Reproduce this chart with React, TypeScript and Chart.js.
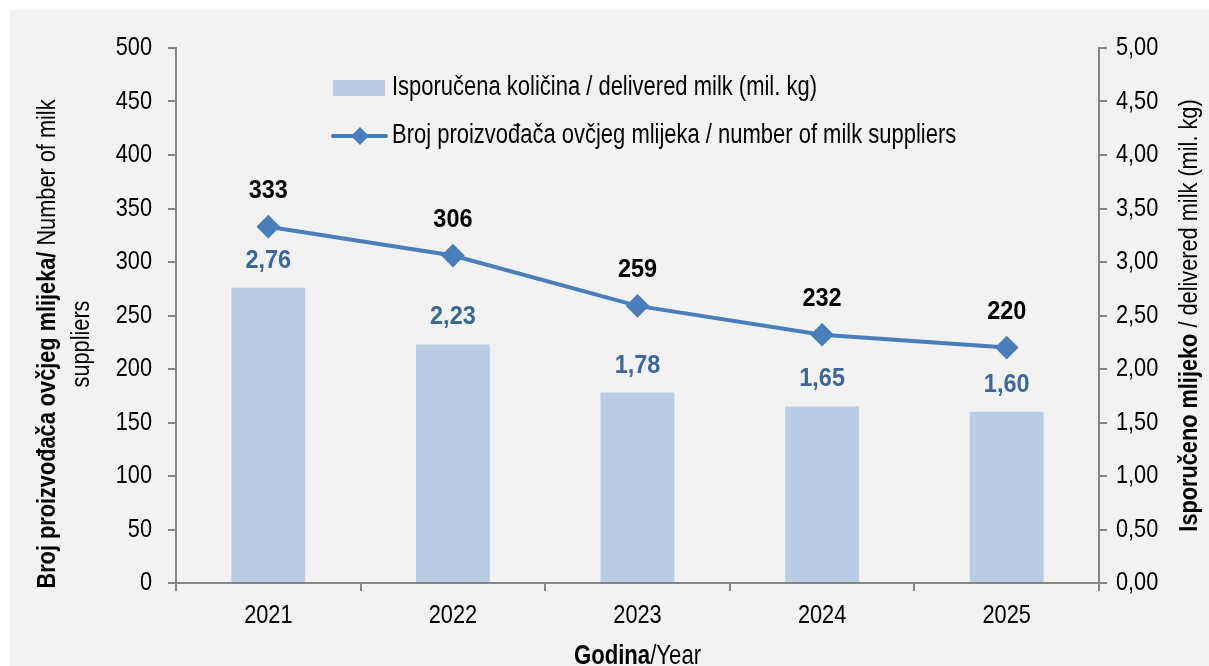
import React, { useEffect, useRef } from "react";
import { Chart, registerables } from "chart.js";

Chart.register(...registerables);

const years = ["2021", "2022", "2023", "2024", "2025"];
const deliveredMilk = [2.76, 2.23, 1.78, 1.65, 1.6];
const suppliers = [333, 306, 259, 232, 220];

const barLabel = "Isporučena količina / delivered milk (mil. kg)";
const lineLabel = "Broj proizvođača ovčjeg mlijeka / number of milk suppliers";

const FONT = "'Liberation Sans', Arial, sans-serif";
const SX = 0.82; // horizontal condensing to emulate a narrow face
const SX_BOLD_LABEL = 0.92;
const BAR_COLOR = "#b9cde5";
const LINE_COLOR = "#4a7ebb";
const BAR_LABEL_COLOR = "#3a679c";
const AXIS_COLOR = "#868686";

const fmt2 = (v: number) => v.toFixed(2).replace(".", ",");

type Seg = { text: string; bold: boolean };

function setFont(ctx: CanvasRenderingContext2D, size: number, bold: boolean) {
  ctx.font = `${bold ? "bold " : ""}${size}px ${FONT}`;
}

function drawText(
  ctx: CanvasRenderingContext2D,
  text: string,
  x: number,
  y: number,
  size: number,
  bold: boolean,
  align: CanvasTextAlign,
  color: string,
  sx: number = SX
) {
  ctx.save();
  setFont(ctx, size, bold);
  ctx.fillStyle = color;
  ctx.textAlign = align;
  ctx.textBaseline = "middle";
  ctx.translate(x, y);
  ctx.scale(sx, 1);
  ctx.fillText(text, 0, 0);
  ctx.restore();
}

function drawSegments(ctx: CanvasRenderingContext2D, segs: Seg[], size: number, cx: number, cy: number, color: string) {
  let total = 0;
  const widths: number[] = [];
  for (const s of segs) {
    setFont(ctx, size, s.bold);
    const w = ctx.measureText(s.text).width * SX;
    widths.push(w);
    total += w;
  }
  let x = cx - total / 2;
  segs.forEach((s, i) => {
    drawText(ctx, s.text, x, cy, size, s.bold, "left", color);
    x += widths[i];
  });
}

const decorPlugin = {
  id: "decor",
  afterDraw(chart: any) {
    const ctx: CanvasRenderingContext2D = chart.ctx;
    const ca = chart.chartArea;
    const sx = chart.scales.x;
    const sy = chart.scales.y;
    const sy1 = chart.scales.y1;
    ctx.save();

    // tick labels
    sy.ticks.forEach((t: any, i: number) => {
      drawText(ctx, String(t.value), sy.right - 24, sy.getPixelForTick(i), 26.5, false, "right", "#000");
    });
    sy1.ticks.forEach((t: any, i: number) => {
      drawText(ctx, fmt2(Number(t.value)), sy1.left + 17, sy1.getPixelForTick(i), 26.5, false, "left", "#000");
    });
    years.forEach((y, i) => {
      drawText(ctx, y, sx.getPixelForValue(i), ca.bottom + 33, 26.5, false, "center", "#000");
    });

    // data labels
    const barMeta = chart.getDatasetMeta(0);
    const lineMeta = chart.getDatasetMeta(1);
    barMeta.data.forEach((el: any, i: number) => {
      drawText(ctx, fmt2(deliveredMilk[i]), el.x, el.y - 27, 25.5, true, "center", BAR_LABEL_COLOR, SX_BOLD_LABEL);
    });
    lineMeta.data.forEach((el: any, i: number) => {
      drawText(ctx, String(suppliers[i]), el.x, el.y - 36, 25.5, true, "center", "#000", SX_BOLD_LABEL);
    });

    // legend
    const lx = ca.left + 157;
    const ly1 = ca.top + 40;
    const ly2 = ca.top + 88;
    ctx.fillStyle = BAR_COLOR;
    ctx.fillRect(lx, ly1 - 8, 52, 16);
    ctx.strokeStyle = LINE_COLOR;
    ctx.lineWidth = 4;
    ctx.lineCap = "round";
    ctx.beginPath();
    ctx.moveTo(lx, ly2);
    ctx.lineTo(lx + 53, ly2);
    ctx.stroke();
    ctx.fillStyle = LINE_COLOR;
    ctx.beginPath();
    const dx = lx + 27;
    const r = 9;
    ctx.moveTo(dx, ly2 - r);
    ctx.lineTo(dx + r, ly2);
    ctx.lineTo(dx, ly2 + r);
    ctx.lineTo(dx - r, ly2);
    ctx.closePath();
    ctx.fill();
    drawText(ctx, barLabel, lx + 59, ly1, 26.8, false, "left", "#000");
    drawText(ctx, lineLabel, lx + 59, ly2, 26.8, false, "left", "#000");

    // axis titles
    drawSegments(
      ctx,
      [
        { text: "Godina", bold: true },
        { text: "/Year", bold: false },
      ],
      27,
      (ca.left + ca.right) / 2,
      ca.bottom + 74,
      "#000"
    );
    // left title
    ctx.save();
    ctx.translate(38, ca.top + 296);
    ctx.rotate(-Math.PI / 2);
    drawSegments(
      ctx,
      [
        { text: "Broj proizvođača ovčjeg mlijeka/", bold: true },
        { text: " Number of milk", bold: false },
      ],
      26.5,
      0,
      0,
      "#000"
    );
    drawSegments(ctx, [{ text: "suppliers", bold: false }], 26.5, 0, 34, "#000");
    ctx.restore();
    // right title
    ctx.save();
    ctx.translate(ca.right + 91, (ca.top + ca.bottom) / 2);
    ctx.rotate(-Math.PI / 2);
    drawSegments(
      ctx,
      [
        { text: "Isporučeno mlijeko", bold: true },
        { text: " / delivered milk (mil. kg)", bold: false },
      ],
      26.5,
      0,
      0,
      "#000"
    );
    ctx.restore();
    ctx.restore();
  },
};

const axisGrid = {
  drawOnChartArea: false,
  drawTicks: true,
  tickLength: 8,
  color: AXIS_COLOR,
  lineWidth: 2,
};

export default function App() {
  const ref = useRef<HTMLCanvasElement | null>(null);
  useEffect(() => {
    if (!ref.current) return;
    const chart = new Chart(ref.current, {
      type: "bar",
      data: {
        labels: years,
        datasets: [
          {
            type: "bar",
            label: barLabel,
            data: deliveredMilk,
            backgroundColor: BAR_COLOR,
            yAxisID: "y1",
            barPercentage: 0.4,
            categoryPercentage: 1,
            order: 2,
          },
          {
            type: "line",
            label: lineLabel,
            data: suppliers,
            borderColor: LINE_COLOR,
            backgroundColor: LINE_COLOR,
            borderWidth: 4,
            pointStyle: "rectRot",
            pointRadius: 9,
            pointHoverRadius: 9,
            yAxisID: "y",
            tension: 0,
            order: 1,
          } as any,
        ],
      },
      options: {
        responsive: false,
        animation: false,
        events: [],
        layout: { padding: { top: 38, left: 0, right: 0, bottom: 0 } },
        plugins: {
          legend: { display: false },
          tooltip: { enabled: false },
        },
        scales: {
          x: {
            offset: true,
            grid: { ...axisGrid, offset: true },
            border: { color: AXIS_COLOR, width: 2 },
            ticks: { color: "rgba(0,0,0,0)", font: { family: FONT, size: 20 }, padding: 6, maxRotation: 0 },
            afterFit(scale: any) {
              scale.height = 83;
            },
          },
          y: {
            position: "left",
            min: 0,
            max: 500,
            ticks: { stepSize: 50, color: "rgba(0,0,0,0)", font: { family: FONT, size: 20 }, padding: 14 },
            grid: axisGrid,
            border: { color: AXIS_COLOR, width: 2 },
            afterFit(scale: any) {
              scale.width = 166;
            },
          },
          y1: {
            position: "right",
            min: 0,
            max: 5,
            ticks: {
              stepSize: 0.5,
              color: "rgba(0,0,0,0)",
              font: { family: FONT, size: 20 },
              padding: 8,
              callback: (v: any) => fmt2(Number(v)),
            },
            grid: axisGrid,
            border: { color: AXIS_COLOR, width: 2 },
            afterFit(scale: any) {
              scale.width = 110;
            },
          },
        },
      },
      plugins: [decorPlugin],
    });
    return () => chart.destroy();
  }, []);
  return (
    <div
      style={{
        position: "absolute",
        left: 10,
        top: 10,
        width: 1199,
        height: 656,
        background: "#f2f2f2",
        overflow: "hidden",
      }}
    >
      <canvas ref={ref} width={1199} height={656} style={{ display: "block" }} />
    </div>
  );
}
